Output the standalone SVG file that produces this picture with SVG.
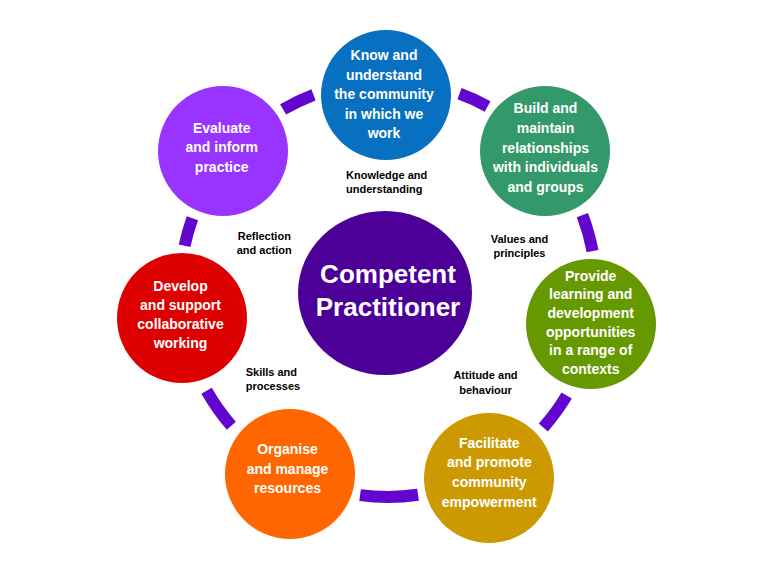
<svg xmlns="http://www.w3.org/2000/svg" width="780" height="576" viewBox="0 0 780 576">
<style>
.ring{fill:none;stroke:#6205CF;stroke-width:12;stroke-linecap:butt}
.nt{font-family:"Liberation Sans",Arial,sans-serif;font-weight:bold;font-size:14px;fill:#FFFFFF;text-anchor:middle}
.ct{font-family:"Liberation Sans",Arial,sans-serif;font-weight:bold;font-size:26px;fill:#FFFFFF;text-anchor:middle}
.lb{font-family:"Liberation Sans",Arial,sans-serif;font-weight:bold;font-size:11px;fill:#000000}
.mid{text-anchor:middle}
</style>
<rect width="780" height="576" fill="#FFFFFF"/>
<g id="connectors">
<path class="ring" d="M283.1 109.4 A208 208 0 0 1 313.5 94.8"/>
<path class="ring" d="M459.5 93.7 A208 208 0 0 1 487.6 106.4"/>
<path class="ring" d="M582.4 215.1 A208 208 0 0 1 592.5 251.1"/>
<path class="ring" d="M566.7 395.5 A208 208 0 0 1 543.3 427.4"/>
<path class="ring" d="M418.0 494.8 A208 208 0 0 1 360.1 495.1"/>
<path class="ring" d="M231.3 425.7 A208 208 0 0 1 206.6 390.8"/>
<path class="ring" d="M184.6 245.8 A208 208 0 0 1 192.4 218.2"/>
</g>
<g id="center">
<ellipse cx="385" cy="293" rx="87" ry="82" fill="#4C0098"/>
<text class="ct" x="388" y="283">Competent</text>
<text class="ct" x="388" y="316">Practitioner</text>
</g>
<g id="know">
<circle cx="386" cy="95" r="65" fill="#0870C0"/>
<text class="nt" x="384" y="60">Know and</text>
<text class="nt" x="384" y="79.5">understand</text>
<text class="nt" x="384" y="99">the community</text>
<text class="nt" x="384" y="118.5">in which we</text>
<text class="nt" x="384" y="138">work</text>
</g>
<g id="build">
<circle cx="545" cy="151" r="65" fill="#33996A"/>
<text class="nt" x="545.5" y="113.3">Build and</text>
<text class="nt" x="545.5" y="133">maintain</text>
<text class="nt" x="545.5" y="152.5">relationships</text>
<text class="nt" x="545.5" y="172">with individuals</text>
<text class="nt" x="545.5" y="191.5">and groups</text>
</g>
<g id="provide">
<circle cx="591" cy="324" r="65" fill="#669900"/>
<text class="nt" x="590.7" y="280.7">Provide</text>
<text class="nt" x="590.7" y="299">learning and</text>
<text class="nt" x="590.7" y="318">development</text>
<text class="nt" x="590.7" y="336.7">opportunities</text>
<text class="nt" x="590.7" y="355">in a range of</text>
<text class="nt" x="590.7" y="373.5">contexts</text>
</g>
<g id="facilitate">
<circle cx="489" cy="478" r="65" fill="#CC9900"/>
<text class="nt" x="489.3" y="447.7">Facilitate</text>
<text class="nt" x="489.3" y="467.3">and promote</text>
<text class="nt" x="489.3" y="486.7">community</text>
<text class="nt" x="489.3" y="506.5">empowerment</text>
</g>
<g id="organise">
<circle cx="290" cy="474" r="65" fill="#FF6600"/>
<text class="nt" x="287.5" y="454.3">Organise</text>
<text class="nt" x="287.5" y="474">and manage</text>
<text class="nt" x="287.5" y="493.3">resources</text>
</g>
<g id="develop">
<circle cx="182" cy="318" r="65" fill="#DD0000"/>
<text class="nt" x="180.5" y="291">Develop</text>
<text class="nt" x="180.5" y="310">and support</text>
<text class="nt" x="180.5" y="329">collaborative</text>
<text class="nt" x="180.5" y="348">working</text>
</g>
<g id="evaluate">
<circle cx="223" cy="151" r="65" fill="#9933FF"/>
<text class="nt" x="221.7" y="132.7">Evaluate</text>
<text class="nt" x="221.7" y="152.3">and inform</text>
<text class="nt" x="221.7" y="171.7">practice</text>
</g>
<g id="labels">
<text class="lb" x="346" y="179">Knowledge and</text>
<text class="lb" x="346" y="193.3">understanding</text>
<text class="lb" x="237.7" y="240">Reflection</text>
<text class="lb" x="236.7" y="254.3">and action</text>
<text class="lb mid" x="519.5" y="243">Values and</text>
<text class="lb mid" x="519.5" y="257">principles</text>
<text class="lb" x="245.7" y="376">Skills and</text>
<text class="lb" x="245.7" y="390">processes</text>
<text class="lb mid" x="485.5" y="379">Attitude and</text>
<text class="lb mid" x="485.5" y="393.5">behaviour</text>
</g>
</svg>
